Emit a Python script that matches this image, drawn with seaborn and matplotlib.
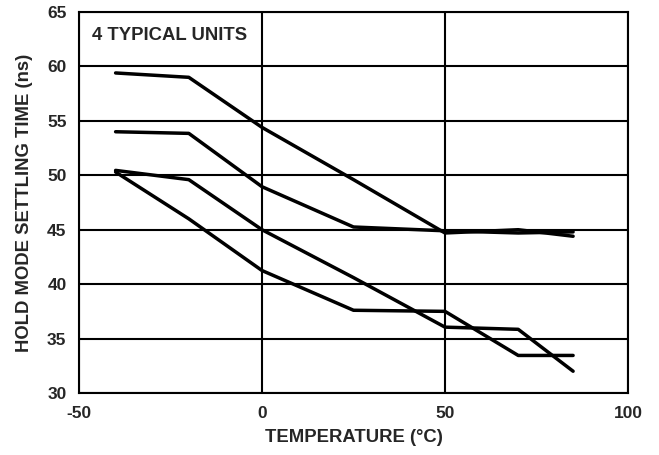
import matplotlib
matplotlib.use("Agg")
import matplotlib.pyplot as plt
import seaborn as sns
import pandas as pd

# Hold mode settling time vs temperature, four typical units
temperature = [-40, -20, 0, 25, 50, 70, 85]
unit_a = [59.4, 59.0, 54.4, 49.6, 44.7, 45.0, 44.4]
unit_b = [54.0, 53.85, 48.95, 45.25, 44.9, 44.7, 44.8]
unit_c = [50.45, 49.6, 45.0, 40.6, 36.05, 35.85, 32.0]
unit_d = [50.3, 46.0, 41.25, 37.6, 37.5, 33.45, 33.45]

x_ticks = [-50, 0, 50, 100]
y_ticks = [30, 35, 40, 45, 50, 55, 60, 65]

frames = []
for name, vals in [("A", unit_a), ("B", unit_b), ("C", unit_c), ("D", unit_d)]:
    frames.append(pd.DataFrame({"temp": temperature, "time": vals, "unit": name}))
df = pd.concat(frames, ignore_index=True)

sns.set_style("white")
plt.rcParams["font.family"] = ["Liberation Sans", "DejaVu Sans"]
plt.rcParams["font.weight"] = "bold"

fig = plt.figure(figsize=(6.59, 4.55), dpi=100)
ax = fig.add_axes([79 / 659, 62 / 455, 549 / 659, 381 / 455])

sns.lineplot(data=df, x="temp", y="time", units="unit", estimator=None,
             color="black", linewidth=2.5, ax=ax, legend=False, sort=False)

ax.set_xlim(-50, 100)
ax.set_ylim(30, 65)
ax.set_xticks(x_ticks)
ax.set_yticks(y_ticks)
ax.set_xticklabels([str(v) for v in x_ticks], fontsize=12.5, fontweight="bold")
ax.set_yticklabels([str(v) for v in y_ticks], fontsize=12.5, fontweight="bold")
ax.tick_params(axis="both", length=0)
ax.tick_params(axis="x", pad=9)
ax.tick_params(axis="y", pad=9)

ax.grid(True, color="black", linewidth=1.5)
ax.set_axisbelow(True)
for s in ax.spines.values():
    s.set_color("black")
    s.set_linewidth(1.5)

ax.set_xlabel("TEMPERATURE (°C)", fontsize=13.3, fontweight="bold", labelpad=6)
ax.set_ylabel("HOLD MODE SETTLING TIME (ns)", fontsize=13.3, fontweight="bold", labelpad=10)

ax.text(0.0237, 0.9265, "4 TYPICAL UNITS", transform=ax.transAxes,
        fontsize=13.3, fontweight="bold", ha="left", va="baseline")

fig.savefig("out.png", dpi=100)
